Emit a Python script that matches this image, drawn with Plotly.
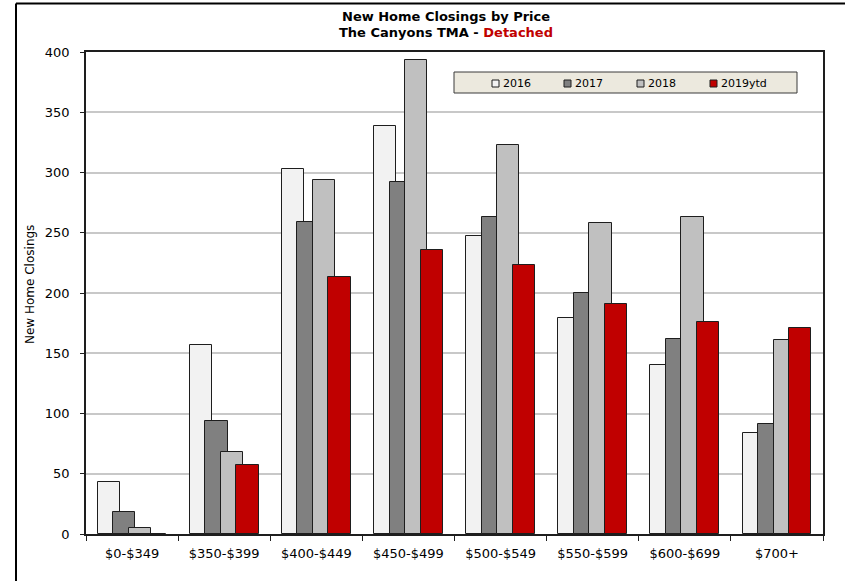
import plotly.graph_objects as go

# Price bands and closings per year
price_bands = ["$0-$349", "$350-$399", "$400-$449", "$450-$499",
               "$500-$549", "$550-$599", "$600-$699", "$700+"]
series_names = ["2016", "2017", "2018", "2019ytd"]
closings_2016 = [43, 157, 303, 339, 247, 179, 140, 84]
closings_2017 = [18, 94, 259, 292, 263, 200, 162, 91]
closings_2018 = [5, 68, 294, 393, 323, 258, 263, 161]
closings_2019ytd = [0, 57, 213, 236, 223, 191, 176, 171]
series_values = [closings_2016, closings_2017, closings_2018, closings_2019ytd]
series_colors = ["#F2F2F2", "#808080", "#C0C0C0", "#C00000"]

W, H = 845, 581
L, R, T, B = 86, 22, 52, 47
PW, PH = W - L - R, H - T - B


def px_x(px):
    """Pixel column -> paper x."""
    return (px - L) / PW


def px_y(py):
    """Pixel row -> paper y."""
    return (H - B - py) / PH


fig = go.Figure()

# Overlapping clustered bars: each bar is 0.242 of a category wide,
# successive years step 0.168 to the right.
bar_w, step = 0.242, 0.168
start = -(3 * step + bar_w) / 2
for i, (name, vals, col) in enumerate(zip(series_names, series_values, series_colors)):
    fig.add_trace(go.Bar(
        x=price_bands, y=vals, name=name,
        marker=dict(color=col, line=dict(color="#1E1E1E", width=1)),
        width=bar_w, offset=start + i * step,
        showlegend=False,
    ))

shapes = []
annotations = []

# Outer frame (top and left edges)
shapes.append(dict(type="line", xref="paper", yref="paper",
                   x0=px_x(16), x1=px_x(860), y0=px_y(3.5), y1=px_y(3.5),
                   line=dict(color="#000000", width=2)))
shapes.append(dict(type="line", xref="paper", yref="paper",
                   x0=px_x(16), x1=px_x(16), y0=px_y(3.5), y1=px_y(600),
                   line=dict(color="#000000", width=2)))

# Two-line title
annotations.append(dict(xref="paper", yref="paper", x=px_x(445.5), y=px_y(16.5),
                        text="<b>New Home Closings by Price</b>", showarrow=False,
                        xanchor="center", yanchor="middle",
                        font=dict(family="DejaVu Sans", size=13, color="#000000")))
annotations.append(dict(xref="paper", yref="paper", x=px_x(445.5), y=px_y(32.5),
                        text="<b>The Canyons TMA - <span style='color:#C00000'>Detached</span></b>",
                        showarrow=False, xanchor="center", yanchor="middle",
                        font=dict(family="DejaVu Sans", size=13, color="#000000")))

# Y-axis title
annotations.append(dict(xref="paper", yref="paper", x=px_x(30), y=px_y(285),
                        text="New Home Closings", showarrow=False, textangle=-90,
                        xanchor="center", yanchor="middle",
                        font=dict(family="DejaVu Sans", size=12, color="#000000")))

# Legend box
shapes.append(dict(type="rect", xref="paper", yref="paper",
                   x0=px_x(454), x1=px_x(797), y0=px_y(72), y1=px_y(93),
                   fillcolor="#ECE9DE", line=dict(color="#3A3A3A", width=1)))
legend_marker_x = [492, 564, 637, 710]
for name, col, mx in zip(series_names, series_colors, legend_marker_x):
    shapes.append(dict(type="rect", xref="paper", yref="paper",
                       x0=px_x(mx), x1=px_x(mx + 7), y0=px_y(80), y1=px_y(87),
                       fillcolor=col, line=dict(color="#1E1E1E", width=1)))
    annotations.append(dict(xref="paper", yref="paper", x=px_x(mx + 8.5), y=px_y(83.5),
                            text=name, showarrow=False, xanchor="left", yanchor="middle",
                            font=dict(family="DejaVu Sans", size=11, color="#000000")))

fig.update_layout(
    width=W, height=H,
    margin=dict(l=L, r=R, t=T, b=B),
    paper_bgcolor="#FFFFFF", plot_bgcolor="#FFFFFF",
    barmode="overlay",
    bargap=0,
    font=dict(family="DejaVu Sans", size=13, color="#000000"),
    xaxis=dict(
        type="category", range=[-0.5, len(price_bands) - 0.5],
        showline=True, linecolor="#1E1E1E", linewidth=1.5, mirror=True,
        ticks="outside", tickson="boundaries", ticklen=5, tickcolor="#1E1E1E",
        showgrid=False, tickfont=dict(size=13), ticklabelstandoff=7,
    ),
    yaxis=dict(
        range=[0, 400], dtick=50,
        showline=True, linecolor="#1E1E1E", linewidth=1.5, mirror=True,
        ticks="outside", ticklen=4, tickcolor="#1E1E1E",
        showgrid=True, gridcolor="#C8C8C8", gridwidth=1.5,
        zeroline=False, tickfont=dict(size=13), ticklabelstandoff=8,
    ),
    shapes=shapes,
    annotations=annotations,
)

fig.write_html("out.html")
